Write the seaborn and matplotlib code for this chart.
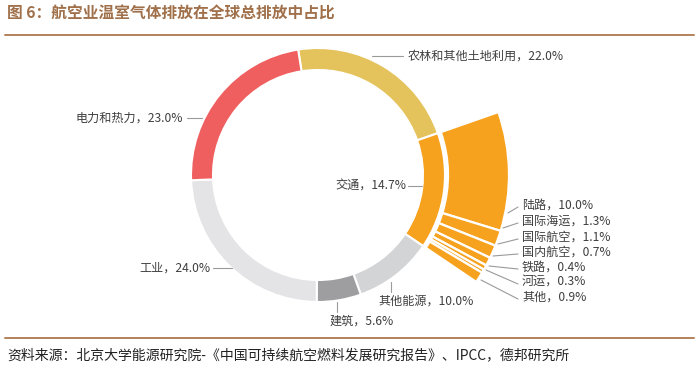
import matplotlib
matplotlib.use("Agg")
import matplotlib.pyplot as plt
import seaborn as sns
from matplotlib.lines import Line2D

# ---- data ----
sectors = ["农林和其他土地利用", "交通", "其他能源", "建筑", "工业", "电力和热力"]
sector_values = [22.0, 14.7, 10.0, 5.6, 24.0, 23.0]
sector_colors = ["#E4C35C", "#F7A21E", "#D3D4D6", "#9E9EA0", "#E4E4E6", "#F05F5F"]

transport = ["陆路", "国际海运", "国际航空", "国内航空", "铁路", "河运", "其他"]
transport_values = [10.0, 1.3, 1.1, 0.7, 0.4, 0.3, 0.9]

title = "图 6：航空业温室气体排放在全球总排放中占比"
source = "资料来源：北京大学能源研究院-《中国可持续航空燃料发展研究报告》、IPCC，德邦研究所"

sns.set_theme(style="white")
plt.rcParams["font.family"] = ["Noto Sans CJK SC", "DejaVu Sans"]

W, H = 700, 372
fig = plt.figure(figsize=(7.0, 3.72), dpi=100)
ax = fig.add_axes([0, 0, 1, 1])

def Y(y):
    return H - y

cx, cy = 318, Y(175)
R, ring = 127, 22
start = 99
total = sum(sector_values)

ax.pie(sector_values, colors=sector_colors, radius=R, center=(cx, cy),
       startangle=start, counterclock=False,
       wedgeprops=dict(width=ring, edgecolor="white", linewidth=1.5))

# exploded transport breakdown
outer_start = start - 360 * sector_values[0] / total
rest = total - sum(transport_values)
outer_vals = transport_values + [rest]
outer_cols = ["#F7A21E"] * len(transport_values) + ["none"]
wedges, _ = ax.pie(outer_vals, colors=outer_cols, radius=191, center=(cx, cy),
                   startangle=outer_start, counterclock=False,
                   wedgeprops=dict(width=191 - 130, edgecolor="white", linewidth=1.6))
wedges[-1].set_visible(False)

ax.set_xlim(0, W)
ax.set_ylim(0, H)
ax.set_aspect("equal")
ax.axis("off")

txt_col = "#3E3E3E"
line_col = "#9A9A9A"
fs = 8.7

def seg(x0, y0, x1, y1):
    ax.add_line(Line2D([x0, x1], [Y(y0), Y(y1)], color=line_col, lw=0.8))

def lab(i):
    return f"{sectors[i]}，{sector_values[i]:.1f}%"

# main labels
seg(372, 56, 403, 56)
ax.text(408, Y(56), lab(0), ha="left", va="center", fontsize=fs, color=txt_col)
seg(408, 186, 422, 186)
ax.text(406, Y(186), lab(1), ha="right", va="center", fontsize=fs, color=txt_col)
seg(391, 282, 391, 292)
ax.text(378, Y(301), lab(2), ha="left", va="center", fontsize=fs, color=txt_col)
seg(337, 302, 337, 312)
ax.text(330, Y(321), lab(3), ha="left", va="center", fontsize=fs, color=txt_col)
seg(213, 268, 232, 268)
ax.text(210, Y(268), lab(4), ha="right", va="center", fontsize=fs, color=txt_col)
seg(187, 118, 202, 118)
ax.text(183, Y(118), lab(5), ha="right", va="center", fontsize=fs, color=txt_col)

# transport sub labels
sub_y = [205, 221, 237, 252, 267, 282, 297]
sub_start = [(508, 213), (503, 228), (498, 244), (493, 256), (489, 266), (486, 270), (481, 280)]
for name, v, ty, (sx, sy) in zip(transport, transport_values, sub_y, sub_start):
    seg(sx, sy, 518, ty + 2)
    ax.text(522, Y(ty), f"{name}，{v:.1f}%", ha="left", va="center", fontsize=fs, color=txt_col)

# title, rules, source
ax.text(7, Y(14), title, ha="left", va="center", fontsize=11.3, fontweight="bold", color="#A0704A")
ax.add_line(Line2D([5, 694], [Y(35), Y(35)], color="#B3825A", lw=1.4))
ax.add_line(Line2D([5, 694], [Y(337.5), Y(337.5)], color="#B3825A", lw=1.4))
ax.text(7, Y(355), source, ha="left", va="center", fontsize=10, color="#222222")

fig.savefig("out.png", dpi=100)
